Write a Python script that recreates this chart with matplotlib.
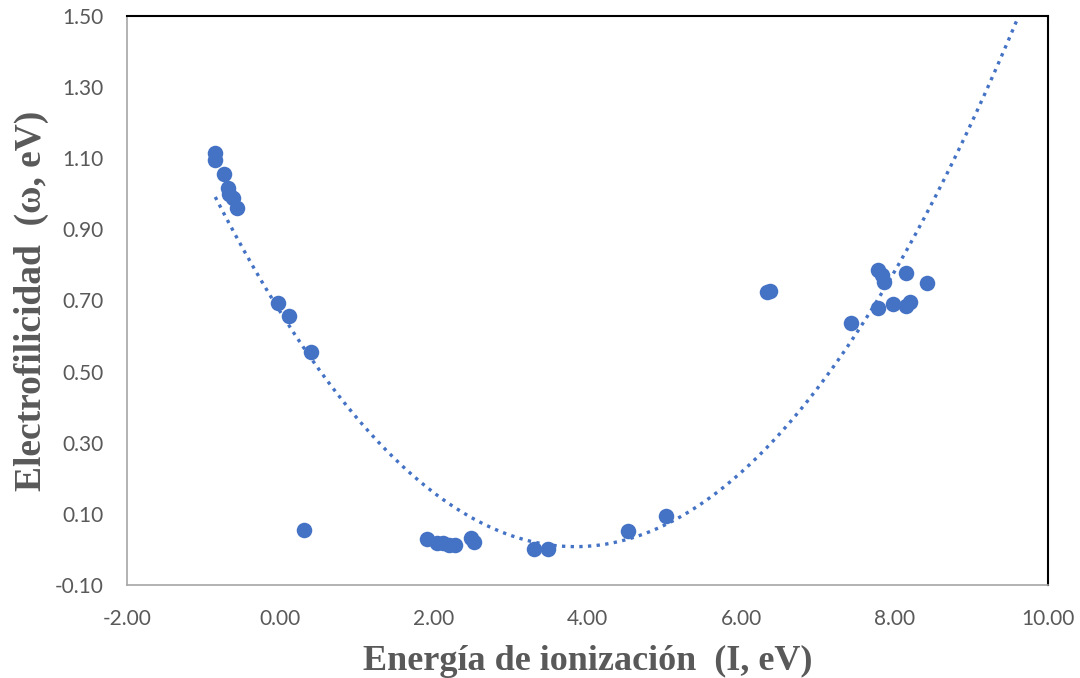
import numpy as np
import matplotlib
matplotlib.use("Agg")
import matplotlib.pyplot as plt
from matplotlib.ticker import FormatStrFormatter, FixedLocator

# Data (Ionization energy I, eV ; Electrophilicity omega, eV)
ionization = [-0.85, -0.85, -0.74, -0.68, -0.67, -0.62, -0.57,
              -0.03, 0.11, 0.40, 0.31,
              1.91, 2.04, 2.12, 2.20, 2.27, 2.48, 2.52,
              3.30, 3.49, 4.53, 5.02,
              6.34, 6.38, 7.43,
              7.78, 7.84, 7.86, 8.15, 8.42,
              7.79, 7.98, 8.15, 8.20]
electrophilicity = [1.115, 1.095, 1.056, 1.016, 0.999, 0.988, 0.960,
                    0.693, 0.656, 0.555, 0.055,
                    0.029, 0.018, 0.018, 0.012, 0.012, 0.032, 0.021,
                    0.001, 0.001, 0.052, 0.094,
                    0.724, 0.727, 0.637,
                    0.786, 0.772, 0.752, 0.777, 0.749,
                    0.679, 0.690, 0.684, 0.696]

# Polynomial (order 2) trendline coefficients
trend_coeffs = [0.0447, -0.3433, 0.667]

x_ticks = [-2, 0, 2, 4, 6, 8, 10]
y_ticks = [-0.10, 0.10, 0.30, 0.50, 0.70, 0.90, 1.10, 1.30, 1.50]

xlabel = "Energía de ionización  (I, eV)"
ylabel = "Electrofilicidad  (ω, eV)"

blue = "#4472C4"
gray = "#595959"

fig = plt.figure(figsize=(10.8, 6.78), dpi=100)
ax = fig.add_axes([127/1080, 1-585/678, (1048-127)/1080, (585-16)/678])

x = np.array(ionization)
y = np.array(electrophilicity)
xt = np.linspace(x.min(), 10, 400)
ax.plot(xt, np.polyval(trend_coeffs, xt), linestyle=(0, (1, 1.6)), color=blue, lw=2.4, zorder=2)
ax.scatter(x, y, s=125, color=blue, zorder=3, linewidths=0)

ax.set_xlim(-2, 10)
ax.set_ylim(-0.1, 1.5)
ax.xaxis.set_major_locator(FixedLocator(x_ticks))
ax.yaxis.set_major_locator(FixedLocator(y_ticks))
ax.xaxis.set_major_formatter(FormatStrFormatter("%.2f"))
ax.yaxis.set_major_formatter(FormatStrFormatter("%.2f"))
ax.tick_params(length=0, labelsize=15, labelcolor=gray)
ax.tick_params(axis="y", pad=17)
ax.tick_params(axis="x", pad=17)
for lab in ax.get_xticklabels() + ax.get_yticklabels():
    lab.set_fontfamily(["Lato", "DejaVu Sans"])

for s in ["left", "bottom"]:
    ax.spines[s].set_color("#A6A6A6")
    ax.spines[s].set_linewidth(1.2)
for s in ["top", "right"]:
    ax.spines[s].set_color("#000000")
    ax.spines[s].set_linewidth(1.5)

ax.set_xlabel(xlabel, fontsize=26, fontweight="bold", color=gray,
              family=["Liberation Serif", "DejaVu Serif"], labelpad=12)
ax.set_ylabel(ylabel, fontsize=27, fontweight="bold", color=gray,
              family=["Liberation Serif", "DejaVu Serif"], labelpad=4)

fig.savefig("out.png", dpi=100, facecolor="white")
